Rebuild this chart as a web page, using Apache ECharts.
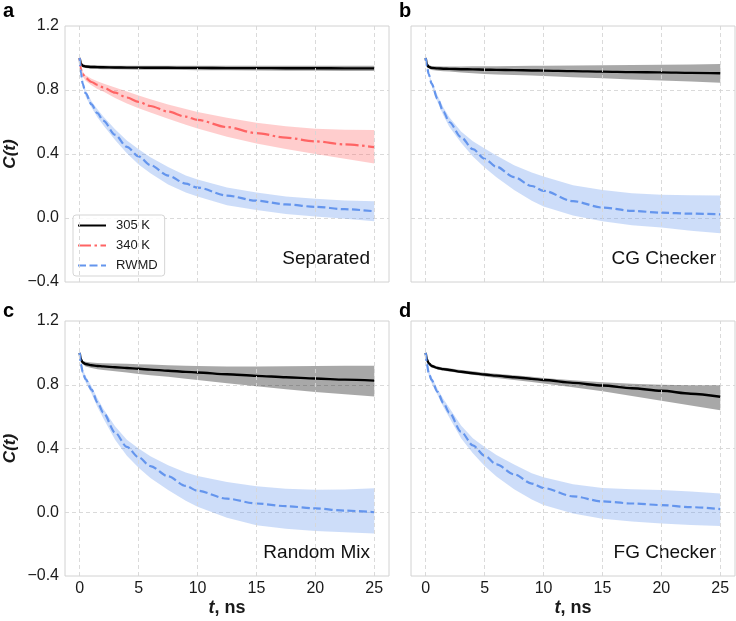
<!DOCTYPE html>
<html>
<head>
<meta charset="utf-8">
<script src="https://cdn.jsdelivr.net/npm/echarts@6/dist/echarts.min.js"></script>
<style>html,body{margin:0;padding:0;background:#fff}#c{width:736px;height:621px}</style>
</head>
<body>
<div id="c"></div>
<script>
// ---- data ----
const T = [0, 0.1, 0.25, 0.5, 1, 1.5, 2, 3, 4, 5, 6, 7.5, 9, 10, 12.5, 15, 17.5, 20, 22.5, 25];
const X_TICKS = [0, 5, 10, 15, 20, 25];
const Y_TICKS = [-0.4, 0.0, 0.4, 0.8, 1.2];
const LEGEND_NAMES = ['305 K', '340 K', 'RWMD'];
const PANEL_LETTERS = ['a', 'b', 'c', 'd'];
const PANEL_NAMES = ['Separated', 'CG Checker', 'Random Mix', 'FG Checker'];

// panel a : Separated
const aBlackMean = [1.0, 0.965, 0.952, 0.947, 0.944, 0.943, 0.942, 0.941, 0.940, 0.940, 0.939, 0.939, 0.938, 0.938, 0.937, 0.937, 0.936, 0.936, 0.935, 0.935];
const aBlackHi   = [1.0, 0.972, 0.962, 0.957, 0.955, 0.954, 0.953, 0.952, 0.952, 0.952, 0.951, 0.951, 0.951, 0.951, 0.951, 0.951, 0.951, 0.951, 0.951, 0.951];
const aBlackLo   = [1.0, 0.958, 0.942, 0.937, 0.933, 0.931, 0.930, 0.929, 0.928, 0.927, 0.926, 0.926, 0.925, 0.924, 0.923, 0.922, 0.921, 0.920, 0.919, 0.918];
const aRedMean = [1.0, 0.93, 0.90, 0.875, 0.85, 0.832, 0.816, 0.783, 0.753, 0.726, 0.70, 0.665, 0.633, 0.613, 0.568, 0.531, 0.502, 0.479, 0.46, 0.443];
const aRedHi   = [1.0, 0.94, 0.915, 0.892, 0.87, 0.855, 0.84, 0.815, 0.79, 0.765, 0.742, 0.71, 0.682, 0.663, 0.626, 0.596, 0.573, 0.558, 0.551, 0.55];
const aRedLo   = [1.0, 0.92, 0.885, 0.858, 0.83, 0.807, 0.79, 0.75, 0.715, 0.686, 0.66, 0.62, 0.583, 0.56, 0.508, 0.466, 0.431, 0.40, 0.37, 0.34];
const aBlueMean = [1.0, 0.91, 0.84, 0.78, 0.71, 0.655, 0.608, 0.52, 0.445, 0.385, 0.33, 0.265, 0.215, 0.19, 0.14, 0.108, 0.085, 0.07, 0.055, 0.042];
const aBlueHi   = [1.0, 0.92, 0.855, 0.80, 0.73, 0.68, 0.635, 0.555, 0.485, 0.43, 0.38, 0.318, 0.265, 0.24, 0.19, 0.16, 0.135, 0.12, 0.11, 0.105];
const aBlueLo   = [1.0, 0.90, 0.825, 0.76, 0.69, 0.63, 0.58, 0.487, 0.405, 0.335, 0.28, 0.21, 0.16, 0.135, 0.08, 0.05, 0.025, 0.01, -0.005, -0.02];

// panel b : CG Checker
const bBlackMean = [1.0, 0.96, 0.945, 0.938, 0.935, 0.933, 0.932, 0.930, 0.929, 0.927, 0.926, 0.924, 0.922, 0.921, 0.918, 0.915, 0.912, 0.910, 0.907, 0.905];
const bBlackHi   = [1.0, 0.97, 0.955, 0.950, 0.948, 0.947, 0.947, 0.947, 0.948, 0.948, 0.949, 0.950, 0.951, 0.951, 0.953, 0.955, 0.956, 0.958, 0.960, 0.962];
const bBlackLo   = [1.0, 0.95, 0.935, 0.925, 0.920, 0.917, 0.915, 0.910, 0.905, 0.900, 0.897, 0.893, 0.890, 0.888, 0.880, 0.873, 0.865, 0.860, 0.853, 0.845];
const bBlueMean = [1.0, 0.95, 0.90, 0.84, 0.745, 0.665, 0.6, 0.505, 0.43, 0.37, 0.32, 0.255, 0.20, 0.17, 0.105, 0.065, 0.045, 0.033, 0.027, 0.023];
const bBlueHi   = [1.0, 0.955, 0.91, 0.855, 0.765, 0.69, 0.63, 0.54, 0.48, 0.435, 0.39, 0.33, 0.285, 0.26, 0.205, 0.175, 0.155, 0.145, 0.142, 0.14];
const bBlueLo   = [1.0, 0.945, 0.89, 0.825, 0.725, 0.64, 0.57, 0.47, 0.385, 0.315, 0.255, 0.175, 0.108, 0.072, 0.015, -0.02, -0.045, -0.06, -0.08, -0.095];

// panel c : Random Mix
const cBlackMean = [1.0, 0.96, 0.94, 0.93, 0.922, 0.918, 0.915, 0.910, 0.905, 0.900, 0.895, 0.888, 0.881, 0.877, 0.866, 0.856, 0.847, 0.839, 0.832, 0.826];
const cBlackHi   = [1.0, 0.97, 0.95, 0.945, 0.94, 0.937, 0.935, 0.933, 0.931, 0.929, 0.927, 0.923, 0.920, 0.918, 0.915, 0.915, 0.916, 0.918, 0.919, 0.920];
const cBlackLo   = [1.0, 0.95, 0.93, 0.915, 0.905, 0.898, 0.893, 0.885, 0.877, 0.868, 0.860, 0.850, 0.838, 0.830, 0.810, 0.790, 0.772, 0.755, 0.740, 0.726];
const cBlueMean = [1.0, 0.93, 0.88, 0.835, 0.77, 0.69, 0.625, 0.50, 0.41, 0.345, 0.29, 0.225, 0.165, 0.135, 0.085, 0.055, 0.038, 0.024, 0.01, 0.0];
const cBlueHi   = [1.0, 0.94, 0.90, 0.855, 0.79, 0.715, 0.65, 0.54, 0.455, 0.40, 0.352, 0.295, 0.25, 0.228, 0.19, 0.163, 0.148, 0.141, 0.143, 0.15];
const cBlueLo   = [1.0, 0.92, 0.86, 0.815, 0.745, 0.66, 0.59, 0.455, 0.355, 0.28, 0.215, 0.14, 0.072, 0.035, -0.035, -0.082, -0.104, -0.117, -0.125, -0.133];

// panel d : FG Checker
const dBlackMean = [1.0, 0.96, 0.935, 0.918, 0.905, 0.898, 0.893, 0.882, 0.872, 0.864, 0.857, 0.847, 0.837, 0.830, 0.812, 0.795, 0.778, 0.762, 0.744, 0.725];
const dBlackHi   = [1.0, 0.97, 0.945, 0.928, 0.915, 0.908, 0.903, 0.893, 0.884, 0.876, 0.869, 0.860, 0.850, 0.843, 0.828, 0.815, 0.806, 0.800, 0.797, 0.797];
const dBlackLo   = [1.0, 0.95, 0.925, 0.908, 0.895, 0.888, 0.883, 0.872, 0.862, 0.852, 0.843, 0.830, 0.817, 0.808, 0.785, 0.760, 0.730, 0.700, 0.670, 0.640];
const dBlueMean = [1.0, 0.93, 0.875, 0.83, 0.755, 0.685, 0.625, 0.505, 0.42, 0.355, 0.30, 0.238, 0.18, 0.152, 0.10, 0.068, 0.055, 0.045, 0.032, 0.02];
const dBlueHi   = [1.0, 0.94, 0.89, 0.85, 0.775, 0.71, 0.655, 0.545, 0.465, 0.41, 0.36, 0.30, 0.245, 0.22, 0.175, 0.152, 0.144, 0.14, 0.13, 0.118];
const dBlueLo   = [1.0, 0.92, 0.86, 0.81, 0.735, 0.66, 0.595, 0.465, 0.37, 0.29, 0.225, 0.145, 0.08, 0.045, -0.008, -0.04, -0.058, -0.07, -0.08, -0.087];

// ---- styling ----
const FONT = 'Liberation Sans, Arial, Helvetica, sans-serif';
const TXT = '#1a1a1a';
const GRIDS = [
  {left: 65, top: 26, width: 324, height: 256},
  {left: 411, top: 26, width: 324, height: 256},
  {left: 65, top: 321, width: 324, height: 255},
  {left: 411, top: 321, width: 324, height: 255}
];
const STY = {
  black: {line: '#000000', band: 'rgba(0,0,0,0.34)', type: 'solid', width: 2.4},
  red:   {line: '#ff6464', band: 'rgba(255,100,100,0.32)', type: [13, 3.5, 2.5, 3.5], width: 2.2},
  blue:  {line: '#6495ed', band: 'rgba(100,149,237,0.32)', type: [8, 3.5], width: 2.2}
};

const panels = [
  [{name: '305 K', k: 'black', m: aBlackMean, lo: aBlackLo, hi: aBlackHi},
   {name: '340 K', k: 'red', m: aRedMean, lo: aRedLo, hi: aRedHi},
   {name: 'RWMD', k: 'blue', m: aBlueMean, lo: aBlueLo, hi: aBlueHi}],
  [{name: '305 K', k: 'black', m: bBlackMean, lo: bBlackLo, hi: bBlackHi},
   {name: 'RWMD', k: 'blue', m: bBlueMean, lo: bBlueLo, hi: bBlueHi}],
  [{name: '305 K', k: 'black', m: cBlackMean, lo: cBlackLo, hi: cBlackHi},
   {name: 'RWMD', k: 'blue', m: cBlueMean, lo: cBlueLo, hi: cBlueHi}],
  [{name: '305 K', k: 'black', m: dBlackMean, lo: dBlackLo, hi: dBlackHi},
   {name: 'RWMD', k: 'blue', m: dBlueMean, lo: dBlueLo, hi: dBlueHi}]
];

const pair = (xs, ys) => xs.map((x, i) => [x, ys[i]]);
const fmtY = v => (Math.abs(v) < 1e-9 ? 0 : v).toFixed(1).replace('-', '\u2212');

const grid = [], xAxis = [], yAxis = [], series = [], graphic = [];
GRIDS.forEach((g, i) => {
  grid.push(Object.assign({show: true, borderColor: '#d2d2d2', borderWidth: 1, backgroundColor: '#fff', containLabel: false}, g));
  const bottom = i >= 2, leftCol = i % 2 === 0;
  xAxis.push({
    gridIndex: i, type: 'value', min: -1.25, max: 26.25,
    axisLine: {show: false}, axisTick: {show: false}, splitLine: {show: false},
    axisLabel: {show: bottom, customValues: X_TICKS, fontSize: 16, color: TXT, fontFamily: FONT, margin: 5},
    name: bottom ? '{i|t}{b|, ns}' : '', nameLocation: 'middle', nameGap: 23,
    nameTextStyle: {rich: {
      i: {fontStyle: 'italic', fontWeight: 'bold', fontSize: 18, fontFamily: FONT, color: TXT},
      b: {fontWeight: 'bold', fontSize: 18, fontFamily: FONT, color: TXT}
    }}
  });
  yAxis.push({
    gridIndex: i, type: 'value', min: Y_TICKS[0], max: Y_TICKS[Y_TICKS.length - 1], interval: 0.4,
    axisLine: {show: false}, axisTick: {show: false},
    splitLine: {show: true, showMinLine: false, showMaxLine: false, lineStyle: {color: '#d6d6d6', type: [4, 3], width: 0.9}},
    axisLabel: {show: leftCol, formatter: fmtY, fontSize: 16, color: TXT, fontFamily: FONT, margin: 6},
    name: leftCol ? 'C(t)' : '', nameLocation: 'middle', nameGap: 46,
    nameTextStyle: {fontStyle: 'italic', fontWeight: 'bold', fontSize: 17, fontFamily: FONT, color: TXT}
  });
  // vertical dashed gridlines
  series.push({
    type: 'line', xAxisIndex: i, yAxisIndex: i, data: [], silent: true, z: 0,
    markLine: {
      silent: true, symbol: ['none', 'none'], label: {show: false}, animation: false,
      lineStyle: {color: '#d6d6d6', type: [4, 3], width: 0.9},
      data: X_TICKS.map(v => ({xAxis: v}))
    }
  });
  // bands (polygon between lower and upper, positioned via api.coord)
  panels[i].forEach(s => {
    const st = STY[s.k];
    series.push({
      type: 'custom', xAxisIndex: i, yAxisIndex: i, silent: true, z: 1,
      data: [[T[0], s.m[0]]],
      renderItem: (params, api) => {
        const up = T.map((x, k) => api.coord([x, s.hi[k]]));
        const dn = T.map((x, k) => api.coord([x, s.lo[k]])).reverse();
        return {type: 'polygon', shape: {points: up.concat(dn)}, style: {fill: st.band, stroke: null}, silent: true};
      }
    });
  });
  // mean lines
  panels[i].forEach(s => {
    const st = STY[s.k];
    series.push({
      type: 'line', name: s.name, xAxisIndex: i, yAxisIndex: i,
      data: pair(T, s.m), symbol: 'none', smooth: 0.3, smoothMonotone: 'x', z: 3,
      lineStyle: {color: st.line, width: st.width, type: st.type}, itemStyle: {color: st.line}
    });
  });
  // panel letter and panel name
  const g0 = GRIDS[i];
  graphic.push({
    type: 'text', left: leftCol ? 3 : 399, top: i < 2 ? 1 : 301,
    style: {text: PANEL_LETTERS[i], font: 'bold 20px ' + FONT, fill: '#000'}
  });
  graphic.push({
    type: 'text', x: g0.left + g0.width - 19, y: g0.top + g0.height - 23,
    style: {text: PANEL_NAMES[i], font: '19px ' + FONT, fill: '#111', align: 'right', verticalAlign: 'middle'}
  });
});

const chart = echarts.init(document.getElementById('c'), null, {renderer: 'canvas'});
chart.setOption({
  animation: false,
  backgroundColor: '#fff',
  grid, xAxis, yAxis, series, graphic,
  legend: {
    data: LEGEND_NAMES.map(n => ({name: n, itemStyle: {opacity: 0}})),
    orient: 'vertical', left: 73, top: 215,
    itemWidth: 28, itemHeight: 12, itemGap: 7,
    padding: [4, 7, 4, 4],
    borderColor: '#d5d5d5', borderWidth: 1, borderRadius: 3, backgroundColor: 'rgba(255,255,255,0.85)',
    textStyle: {fontSize: 13, color: TXT, fontFamily: FONT, padding: [0, 0, 0, 5]},
    selectedMode: false
  }
});
</script>
</body>
</html>
